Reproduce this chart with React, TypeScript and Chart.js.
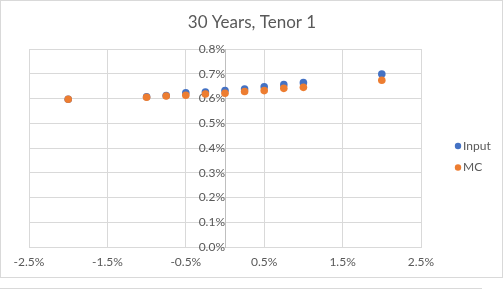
import React, { useEffect, useRef } from "react";
import { Chart, registerables } from "chart.js";

Chart.register(...registerables);

const chartTitle = "30 Years, Tenor 1";
const seriesNames = ["Input", "MC"];
const xValues = [-2, -1, -0.75, -0.5, -0.25, 0, 0.25, 0.5, 0.75, 1, 2];
const inputValues = [0.597, 0.607, 0.612, 0.623, 0.626, 0.632, 0.638, 0.647, 0.656, 0.664, 0.699];
const mcValues = [0.597, 0.605, 0.610, 0.613, 0.618, 0.621, 0.628, 0.632, 0.641, 0.645, 0.674];
const xMin = -2.5, xMax = 2.5, xStep = 1;
const yMin = 0, yMax = 0.8, yStep = 0.1;

const BLUE = "#4472C4";
const ORANGE = "#ED7D31";
const TEXT = "#595959";
const GRID = "#d9d9d9";
const FONT = "Lato, 'Open Sans', sans-serif";

const decorPlugin = {
  id: "decor",
  afterDraw(chart: any) {
    const ctx = chart.ctx;
    const area = chart.chartArea;
    const ds = chart.data.datasets;
    ctx.save();
    // title centered on the whole chart
    ctx.font = `17px ${FONT}`;
    ctx.fillStyle = TEXT;
    ctx.textAlign = "center";
    ctx.textBaseline = "middle";
    ctx.fillText(chartTitle, chart.width / 2, 23);
    // legend
    ctx.font = `12px ${FONT}`;
    ctx.textAlign = "left";
    const x0 = area.right + 37;
    const y0 = area.top + 97;
    ds.forEach((d: any, i: number) => {
      const y = y0 + i * 21.5;
      ctx.beginPath();
      ctx.arc(x0, y, 3.2, 0, Math.PI * 2);
      ctx.fillStyle = d.backgroundColor;
      ctx.fill();
      ctx.fillStyle = TEXT;
      ctx.fillText(d.label, x0 + 5, y);
    });
    ctx.restore();
  },
};

export default function App() {
  const ref = useRef<HTMLCanvasElement>(null);
  useEffect(() => {
    if (!ref.current) return;
    const mk = (vals: number[]) => xValues.map((x, i) => ({ x, y: vals[i] }));
    const chart = new Chart(ref.current, {
      type: "scatter",
      data: {
        datasets: [
          { label: seriesNames[0], data: mk(inputValues), backgroundColor: BLUE, borderColor: BLUE, pointRadius: 3.8, pointBorderWidth: 0, order: 1 },
          { label: seriesNames[1], data: mk(mcValues), backgroundColor: ORANGE, borderColor: ORANGE, pointRadius: 3.8, pointBorderWidth: 0, order: 0 },
        ],
      },
      options: {
        animation: false,
        responsive: true,
        maintainAspectRatio: false,
        layout: { padding: { left: 29, right: 83, top: 49, bottom: 42 } },
        plugins: {
          legend: { display: false },
          tooltip: { enabled: false },
          title: { display: false },
        },
        scales: {
          x: {
            type: "linear",
            position: { y: 0 } as any,
            min: xMin,
            max: xMax,
            ticks: {
              stepSize: xStep,
              color: TEXT,
              font: { family: FONT, size: 12 },
              padding: 8,
              maxRotation: 0,
              callback: (v: any) => Number(v).toFixed(1) + "%",
            },
            grid: { color: GRID, drawTicks: false },
            border: { color: GRID },
          },
          y: {
            type: "linear",
            position: { x: 0 } as any,
            min: yMin,
            max: yMax,
            ticks: {
              stepSize: yStep,
              color: TEXT,
              font: { family: FONT, size: 12 },
              padding: 10,
              callback: (v: any) => Number(v).toFixed(1) + "%",
            },
            grid: { color: GRID, drawTicks: false },
            border: { color: "#bfbfbf" },
          },
        },
      },
      plugins: [decorPlugin],
    });
    return () => chart.destroy();
  }, []);

  return (
    <div style={{ position: "absolute", left: 0, top: 0, width: 504, height: 289, background: "#fff", overflow: "hidden" }}>
      <div style={{ position: "absolute", left: 0, top: 0, width: 503, height: 278, border: "1px solid #d9d9d9", boxSizing: "border-box" }} />
      <div style={{ position: "absolute", left: 0, top: 288, width: 482, height: 10, border: "1px solid #d9d9d9", boxSizing: "border-box" }} />
      <div style={{ position: "absolute", left: 0, top: 0, width: 504, height: 289 }}>
        <canvas ref={ref} />
      </div>
    </div>
  );
}
